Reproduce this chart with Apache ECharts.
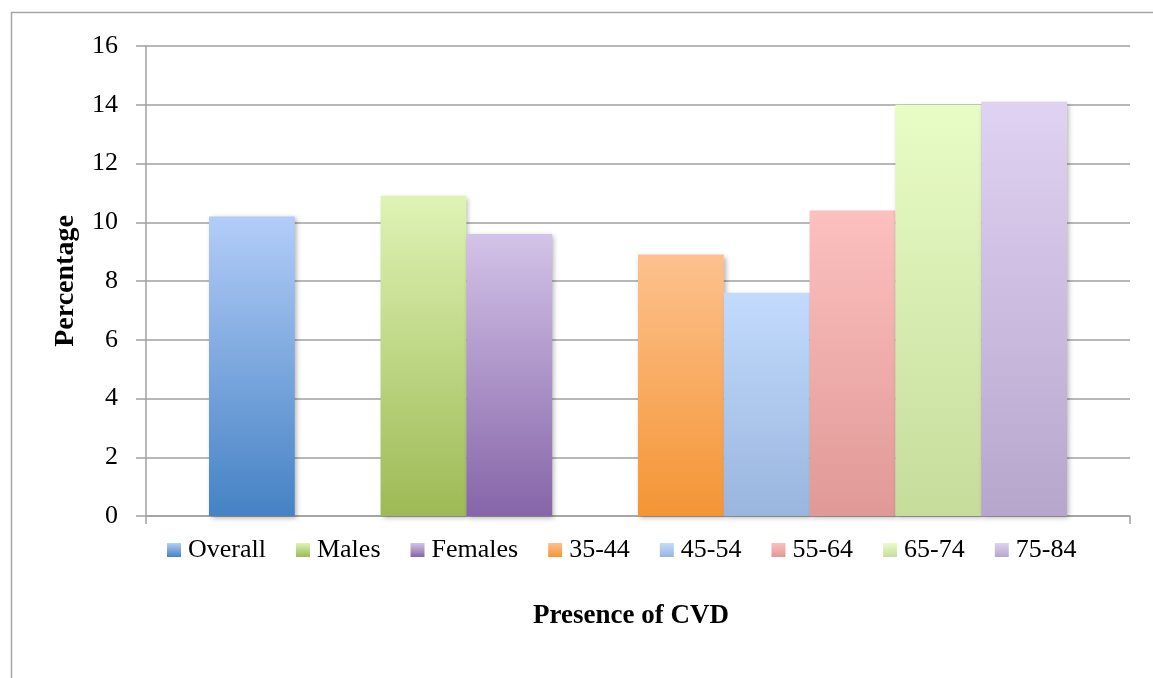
<!DOCTYPE html>
<html>
<head>
<meta charset="utf-8">
<script src="https://cdn.jsdelivr.net/npm/echarts@6/dist/echarts.min.js"></script>
<style>html,body{margin:0;padding:0;background:#fff;}#c{width:1153px;height:678px;}</style>
</head>
<body>
<div id="c"></div>
<script>
const categories = [''];
const seriesNames = ['Overall', 'Males', 'Females', '35-44', '45-54', '55-64', '65-74', '75-84'];
const seriesValues = [10.2, 10.9, 9.6, 8.9, 7.6, 10.4, 14.0, 14.1];
const yTicks = [0, 2, 4, 6, 8, 10, 12, 14, 16];
const xTitle = 'Presence of CVD';
const yTitle = 'Percentage';

const gradients = [
  ['#b3cdf8', '#4582c4'],
  ['#dff3b5', '#9dba55'],
  ['#d3c3e8', '#8665a8'],
  ['#fdc18e', '#f49535'],
  ['#c2dbfd', '#9ab5de'],
  ['#fcc0bf', '#e09996'],
  ['#e8fcc6', '#c6dc9b'],
  ['#e0d2f3', '#b7a6cc']
];
// layout order: Overall, gap, Males, Females, gap, ages...
const order = [0, null, 1, 2, null, 3, 4, 5, 6, 7];
const FONT = 'Liberation Serif';

function grad(c) {
  return new echarts.graphic.LinearGradient(0, 0, 0, 1, [
    { offset: 0, color: c[0] }, { offset: 1, color: c[1] }
  ]);
}

const series = order.map((idx, k) => {
  if (idx === null) {
    return { name: '_gap' + k, type: 'bar', data: [null], barGap: '0%', barCategoryGap: '12.8%', silent: true };
  }
  return {
    name: seriesNames[idx],
    type: 'bar',
    data: [seriesValues[idx]],
    barGap: '0%',
    barCategoryGap: '12.8%',
    itemStyle: {
      color: grad(gradients[idx]),
      shadowBlur: 5,
      shadowOffsetX: 2,
      shadowOffsetY: 2,
      shadowColor: 'rgba(0,0,0,0.3)'
    }
  };
});

const chart = echarts.init(document.getElementById('c'), null, { renderer: 'canvas' });
chart.setOption({
  animation: false,
  backgroundColor: '#fff',
  textStyle: { fontFamily: FONT },
  graphic: [{
    type: 'rect', left: 9, top: 10, silent: true,
    shape: { width: 1170, height: 700 },
    style: { fill: 'none', stroke: '#a6a6a6', lineWidth: 1.5 }
  }],
  grid: { left: 146, right: 23, top: 46, bottom: 162 },
  legend: {
    data: seriesNames.map((n, i) => ({ name: n, itemStyle: { color: grad(gradients[i]) } })),
    left: 167, top: 537, padding: 0,
    itemWidth: 14, itemHeight: 14, itemGap: 30,
    icon: 'rect',
    textStyle: { fontFamily: FONT, fontSize: 26, color: '#000', padding: [0, 0, 0, 2] }
  },
  xAxis: {
    type: 'category',
    data: categories,
    name: xTitle,
    nameLocation: 'middle',
    nameGap: 87,
    nameTextStyle: { fontFamily: FONT, fontSize: 27, fontWeight: 'bold', color: '#000', padding: [0, 14, 0, 0] },
    axisLine: { lineStyle: { color: '#a0a0a0', width: 1.5 } },
    axisTick: { show: true, length: 8, lineStyle: { color: '#a0a0a0', width: 1.5 } },
    axisLabel: { show: false }
  },
  yAxis: {
    type: 'value',
    min: yTicks[0], max: yTicks[yTicks.length - 1], interval: yTicks[1] - yTicks[0],
    name: yTitle,
    nameLocation: 'middle',
    nameGap: 66,
    nameRotate: 90,
    nameTextStyle: { fontFamily: FONT, fontSize: 28, fontWeight: 'bold', color: '#000' },
    axisLine: { show: true, lineStyle: { color: '#a0a0a0', width: 1.5 } },
    axisTick: { show: true, length: 10, lineStyle: { color: '#a0a0a0', width: 1.5 } },
    axisLabel: { fontFamily: FONT, fontSize: 26, color: '#000', margin: 28 },
    splitLine: { show: true, lineStyle: { color: '#a0a0a0', width: 1.5 } }
  },
  series: series
});
</script>
</body>
</html>
